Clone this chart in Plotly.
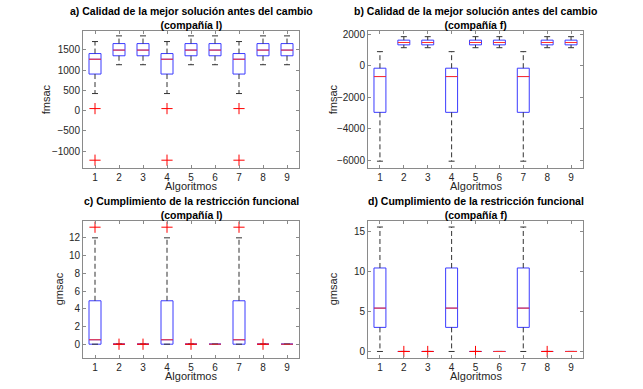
import plotly.graph_objects as go

W, H = 643, 389
positions = [1, 2, 3, 4, 5, 6, 7, 8, 9]
tick_labels = ["1", "2", "3", "4", "5", "6", "7", "8", "9"]

# Panel a: Calidad (compañía l)
a_low = [420, 1130, 1130, 420, 1130, 1130, 420, 1130, 1130]
a_q1 = [900, 1350, 1350, 900, 1350, 1350, 900, 1350, 1350]
a_med = [1265, 1490, 1490, 1265, 1490, 1490, 1265, 1490, 1490]
a_q3 = [1405, 1650, 1650, 1405, 1650, 1650, 1405, 1650, 1650]
a_up = [1700, 1840, 1840, 1700, 1840, 1840, 1700, 1840, 1840]
a_out_x = [1, 1, 4, 4, 7, 7]
a_out_y = [50, -1220, 50, -1220, 50, -1220]

# Panel b: Calidad (compañía f)
b_low = [-6050, 1150, 1150, -6050, 1150, 1150, -6050, 1150, 1150]
b_q1 = [-2950, 1330, 1330, -2950, 1330, 1330, -2950, 1330, 1330]
b_med = [-680, 1480, 1480, -680, 1480, 1480, -680, 1480, 1480]
b_q3 = [-150, 1630, 1630, -150, 1630, 1630, -150, 1630, 1630]
b_up = [900, 1850, 1850, 900, 1850, 1850, 900, 1850, 1850]
b_out_x = []
b_out_y = []

# Panel c: Cumplimiento (compañía l)
c_low = [0, 0, 0, 0, 0, 0, 0, 0, 0]
c_q1 = [0, 0, 0, 0, 0, 0, 0, 0, 0]
c_med = [0.5, 0, 0, 0.5, 0, 0, 0.5, 0, 0]
c_q3 = [4.9, 0, 0, 4.9, 0, 0, 4.9, 0, 0]
c_up = [12.0, 0, 0, 12.0, 0, 0, 12.0, 0, 0]
c_out_x = [1, 4, 7, 2, 3, 5, 8]
c_out_y = [13.2, 13.2, 13.2, 0, 0, 0, 0]

# Panel d: Cumplimiento (compañía f)
d_low = [0, 0, 0, 0, 0, 0, 0, 0, 0]
d_q1 = [3.0, 0, 0, 3.0, 0, 0, 3.0, 0, 0]
d_med = [5.4, 0, 0, 5.4, 0, 0, 5.4, 0, 0]
d_q3 = [10.4, 0, 0, 10.4, 0, 0, 10.4, 0, 0]
d_up = [15.5, 0, 0, 15.5, 0, 0, 15.5, 0, 0]
d_out_x = [2, 3, 5, 8]
d_out_y = [0, 0, 0, 0]

titles = [
    "a) Calidad de la mejor solución antes del cambio<br>(compañía l)",
    "b) Calidad de la mejor solución antes del cambio<br>(compañía f)",
    "c) Cumplimiento de la restricción funcional<br>(compañía l)",
    "d) Cumplimiento de la restricción funcional<br>(compañía f)",
]
ylabels = ["fmsac", "fmsac", "gmsac", "gmsac"]
xlabel = "Algoritmos"

panels = [
    (a_low, a_q1, a_med, a_q3, a_up, a_out_x, a_out_y),
    (b_low, b_q1, b_med, b_q3, b_up, b_out_x, b_out_y),
    (c_low, c_q1, c_med, c_q3, c_up, c_out_x, c_out_y),
    (d_low, d_q1, d_med, d_q3, d_up, d_out_x, d_out_y),
]

# layout (pixels)
boxes_px = [(83, 299, 31, 167.5), (368, 583, 31, 167.5), (83, 299, 221, 357.5), (368, 583, 221, 357.5)]
yranges = [[-1400, 1960], [-6450, 2210], [-1.5, 13.9], [-0.75, 16.25]]
dticks = [500, 2000, 2, 5]
ylabel_x = [46, 333, 59, 333]

FONT = "Liberation Sans, Arial, Helvetica, sans-serif"
TXT = "#262626"
BOXW = 0.5
CAPW = 0.25

fig = go.Figure()
layout = dict(width=W, height=H, margin=dict(l=0, r=0, t=0, b=0, autoexpand=False),
              paper_bgcolor="white", plot_bgcolor="white", showlegend=False,
              font=dict(family=FONT, color=TXT, size=10))
annotations = []

for i, (low, q1, med, q3, up, ox, oy) in enumerate(panels):
    n = i + 1
    xa = "x" if n == 1 else f"x{n}"
    ya = "y" if n == 1 else f"y{n}"
    x0, x1, yt, yb = boxes_px[i]
    # box body
    fig.add_trace(go.Box(x=positions, q1=q1, median=med, q3=q3, lowerfence=q1, upperfence=q3,
                         width=BOXW, whiskerwidth=0, line=dict(color="#3b3bff", width=1),
                         fillcolor="rgba(255,255,255,0)", xaxis=xa, yaxis=ya, hoverinfo="skip"))
    # whiskers (dashed black)
    wx, wy = [], []
    for p, l, a, b, u in zip(positions, low, q1, q3, up):
        wx += [p, p, None, p, p, None]
        wy += [b, u, None, a, l, None]
    fig.add_trace(go.Scatter(x=wx, y=wy, mode="lines", line=dict(color="#333333", width=1, dash="5px,3px"),
                             xaxis=xa, yaxis=ya, hoverinfo="skip"))
    # caps
    cx, cy = [], []
    for p, l, u in zip(positions, low, up):
        cx += [p - CAPW / 2, p + CAPW / 2, None, p - CAPW / 2, p + CAPW / 2, None]
        cy += [u, u, None, l, l, None]
    fig.add_trace(go.Scatter(x=cx, y=cy, mode="lines", line=dict(color="#333333", width=1),
                             xaxis=xa, yaxis=ya, hoverinfo="skip"))
    # medians (red)
    mx, my = [], []
    for p, m in zip(positions, med):
        mx += [p - BOXW / 2, p + BOXW / 2, None]
        my += [m, m, None]
    fig.add_trace(go.Scatter(x=mx, y=my, mode="lines", line=dict(color="#ff3030", width=1),
                             xaxis=xa, yaxis=ya, hoverinfo="skip"))
    # outliers
    if ox:
        fig.add_trace(go.Scatter(x=ox, y=oy, mode="markers",
                                 marker=dict(symbol="cross-thin", size=8, line=dict(color="#ff0000", width=1)),
                                 xaxis=xa, yaxis=ya, hoverinfo="skip"))

    axcommon = dict(showgrid=False, zeroline=False, showline=True, linecolor="#8a8a8a", linewidth=1,
                    mirror="allticks", ticks="inside", ticklen=3, tickcolor="#8a8a8a",
                    tickfont=dict(family=FONT, size=10, color=TXT))
    layout["xaxis" if n == 1 else f"xaxis{n}"] = dict(
        domain=[x0 / W, x1 / W], range=[0.5, 9.5], tickmode="array", tickvals=positions,
        ticktext=tick_labels, anchor=ya, **axcommon)
    layout["yaxis" if n == 1 else f"yaxis{n}"] = dict(
        domain=[1 - yb / H, 1 - yt / H], range=yranges[i], dtick=dticks[i], anchor=xa, **axcommon)

    annotations.append(dict(text="<b>" + titles[i] + "</b>", xref="paper", yref="paper",
                            x=(x0 + x1) / 2 / W, y=1 - yt / H, xanchor="center", yanchor="bottom",
                            yshift=-2, showarrow=False, font=dict(family=FONT, size=10.5, color="black")))
    annotations.append(dict(text=xlabel, xref="paper", yref="paper", x=(x0 + x1) / 2 / W,
                            y=1 - (yb + 18) / H, xanchor="center", yanchor="middle", showarrow=False,
                            font=dict(family=FONT, size=11, color=TXT)))
    annotations.append(dict(text=ylabels[i], xref="paper", yref="paper", x=ylabel_x[i] / W,
                            y=1 - (yt + yb) / 2 / H, xanchor="center", yanchor="middle", textangle=-90,
                            showarrow=False, font=dict(family=FONT, size=11, color=TXT)))

layout["annotations"] = annotations
fig.update_layout(**layout)
fig.write_html("out.html", config={"displayModeBar": False},
               post_script="document.body.style.margin='0';document.body.style.padding='0';")
